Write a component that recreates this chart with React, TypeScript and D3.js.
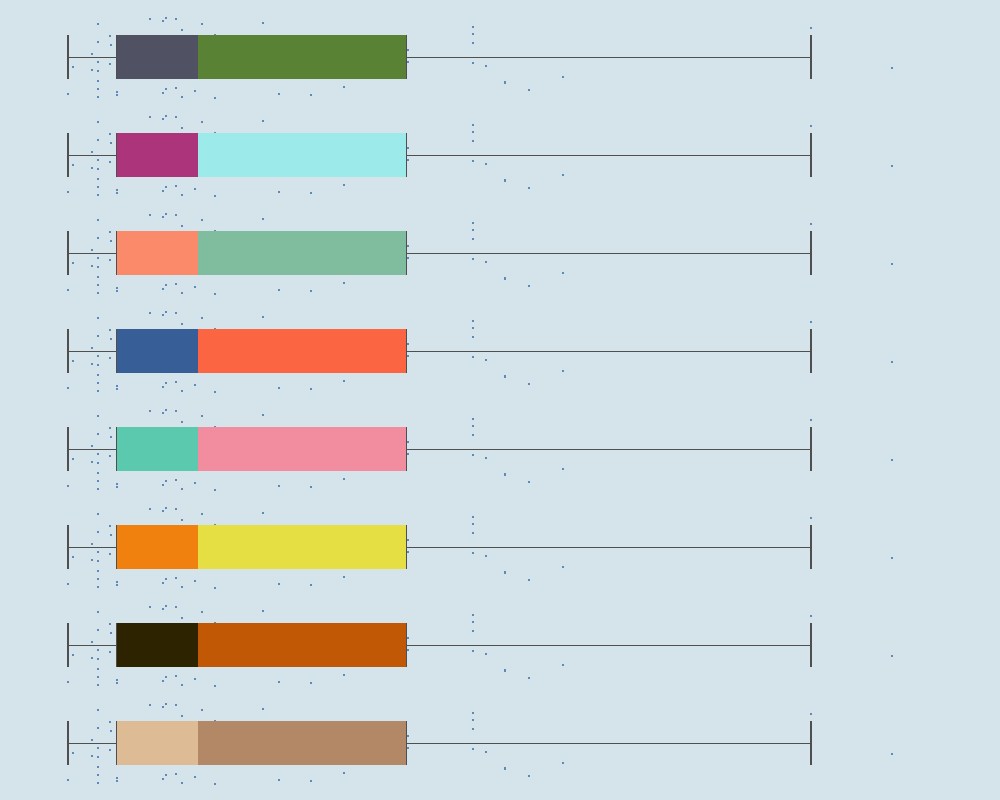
import React from "react";
import * as d3 from "d3";

const categories = ["A", "B", "C", "D", "E", "F", "G", "H"];
const lowerColors = ["#505163", "#ab347a", "#fb8a6a", "#375e97", "#5bc9ad", "#f0810f", "#2e2300", "#ddbc95"];
const upperColors = ["#598234", "#9cebea", "#80bd9e", "#fb6542", "#f18d9f", "#e5df43", "#c05805", "#b38867"];

// box summary (value units)
const whiskerLow = 1.8;
const q1 = 6.65;
const median = 14.8;
const q3 = 35.65;
const whiskerHigh = 76.1;

// jittered observations: value and jitter (fraction of half-band)
const pointValues = [
  4.8, 6.0, 4.8, 6.1, 4.2, 4.8, 2.3, 6.0, 4.2, 4.8, 4.8, 4.8, 4.8, 1.8, 6.7, 6.7,
  10.0, 11.3, 11.6, 12.6, 13.2, 15.2, 16.5, 21.3, 11.3, 11.6, 12.6, 13.2, 14.5, 16.5,
  22.9, 26.1, 29.4, 35.8, 35.8, 42.3, 42.3, 42.3, 42.3, 43.6, 45.5, 45.5, 47.9, 51.3,
  76.1, 84.2,
];
const pointJitter = [
  -0.67, -0.43, -0.31, -0.25, -0.07, 0.1, 0.2, 0.14, 0.27, 0.29, 0.49, 0.65, 0.82, 0.76, 0.71, 0.78,
  -0.78, -0.73, -0.8, -0.78, -0.55, -0.67, -0.45, -0.69, 0.73, 0.65, 0.63, 0.82, 0.69, 0.84,
  0.76, 0.78, 0.61, -0.14, 0.1, -0.61, -0.47, -0.29, 0.12, 0.18, 0.51, 0.53, 0.67, 0.41,
  -0.59, 0.22,
];

const W = 1000;
const H = 800;

export default function App() {
  const x = d3.scaleLinear().domain([0, 90]).range([50, 950]);
  const y = d3.scalePoint<string>().domain(categories).range([57, 743]);
  const jitter = d3.scaleLinear().domain([-1, 1]).range([-49, 49]);
  const boxHalf = 22;
  const lineColor = "#4f4f4f";
  const pointColor = "#5f89b9";

  return (
    <div style={{ position: "absolute", left: 0, top: 0, width: W, height: H }}>
      <svg width={W} height={H} style={{ display: "block" }}>
        <rect x={0} y={0} width={W} height={H} fill="#d5e3ea" />
        {categories.map((c, i) => {
          const cy = y(c) as number;
          const xl = x(q1);
          const xm = x(median);
          const xu = x(q3);
          return (
            <g key={c} shapeRendering="crispEdges">
              {pointValues.map((v, k) => (
                <rect
                  key={k}
                  x={x(v) - 1}
                  y={cy + jitter(pointJitter[k]) - 1}
                  width={2}
                  height={2}
                  fill={pointColor}
                />
              ))}
              <line x1={x(whiskerLow)} x2={xl} y1={cy + 0.5} y2={cy + 0.5} stroke={lineColor} strokeWidth={1} />
              <line x1={xu} x2={x(whiskerHigh)} y1={cy + 0.5} y2={cy + 0.5} stroke={lineColor} strokeWidth={1} />
              <rect x={x(whiskerLow) - 1} y={cy - boxHalf} width={2} height={boxHalf * 2} fill={lineColor} />
              <rect x={x(whiskerHigh) - 1} y={cy - boxHalf} width={2} height={boxHalf * 2} fill={lineColor} />
              <rect x={xl} y={cy - boxHalf} width={xm - xl} height={boxHalf * 2} fill={lowerColors[i]} />
              <rect x={xm} y={cy - boxHalf} width={xu - xm} height={boxHalf * 2} fill={upperColors[i]} />
              <rect x={xl - 0.5} y={cy - boxHalf} width={1} height={boxHalf * 2} fill={lineColor} />
              <rect x={xu - 0.5} y={cy - boxHalf} width={1} height={boxHalf * 2} fill={lineColor} />
            </g>
          );
        })}
      </svg>
    </div>
  );
}
